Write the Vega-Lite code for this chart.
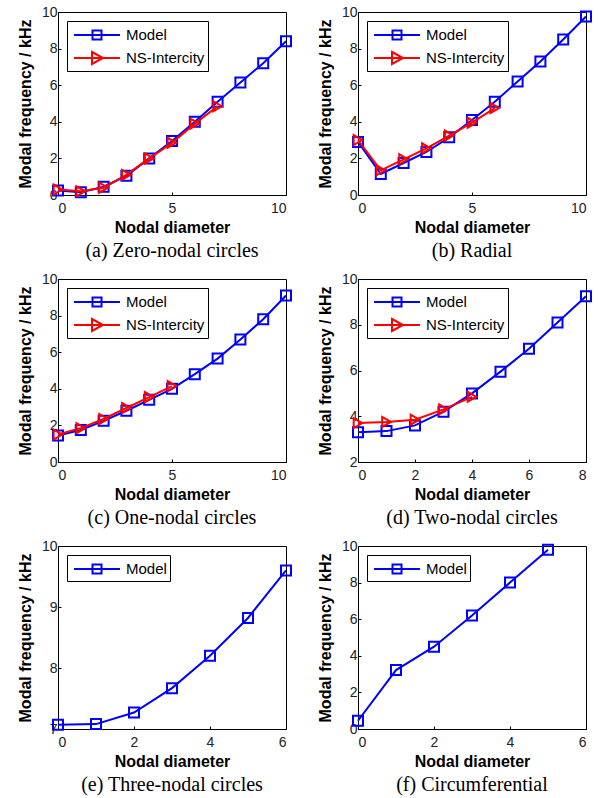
{
  "$schema": "https://vega.github.io/schema/vega-lite/v6.json",
  "padding": {"left": 16, "top": 4, "right": 5, "bottom": 0},
  "datasets": {
    "a": [
      {"series": "Model", "nd": 0, "f": 0.25}, {"series": "Model", "nd": 1, "f": 0.15}, {"series": "Model", "nd": 2, "f": 0.45}, {"series": "Model", "nd": 3, "f": 1.05}, {"series": "Model", "nd": 4, "f": 2.0}, {"series": "Model", "nd": 5, "f": 2.95}, {"series": "Model", "nd": 6, "f": 4.0}, {"series": "Model", "nd": 7, "f": 5.1}, {"series": "Model", "nd": 8, "f": 6.15}, {"series": "Model", "nd": 9, "f": 7.2}, {"series": "Model", "nd": 10, "f": 8.4},
      {"series": "NS-Intercity", "nd": 0, "f": 0.3}, {"series": "NS-Intercity", "nd": 1, "f": 0.2}, {"series": "NS-Intercity", "nd": 2, "f": 0.4}, {"series": "NS-Intercity", "nd": 3, "f": 1.1}, {"series": "NS-Intercity", "nd": 4, "f": 2.0}, {"series": "NS-Intercity", "nd": 5, "f": 2.85}, {"series": "NS-Intercity", "nd": 6, "f": 3.9}, {"series": "NS-Intercity", "nd": 7, "f": 4.85}
    ],
    "b": [
      {"series": "Model", "nd": 0, "f": 2.9}, {"series": "Model", "nd": 1, "f": 1.15}, {"series": "Model", "nd": 2, "f": 1.75}, {"series": "Model", "nd": 3, "f": 2.35}, {"series": "Model", "nd": 4, "f": 3.15}, {"series": "Model", "nd": 5, "f": 4.1}, {"series": "Model", "nd": 6, "f": 5.1}, {"series": "Model", "nd": 7, "f": 6.2}, {"series": "Model", "nd": 8, "f": 7.3}, {"series": "Model", "nd": 9, "f": 8.5}, {"series": "Model", "nd": 10, "f": 9.75},
      {"series": "NS-Intercity", "nd": 0, "f": 3.0}, {"series": "NS-Intercity", "nd": 1, "f": 1.35}, {"series": "NS-Intercity", "nd": 2, "f": 1.95}, {"series": "NS-Intercity", "nd": 3, "f": 2.55}, {"series": "NS-Intercity", "nd": 4, "f": 3.25}, {"series": "NS-Intercity", "nd": 5, "f": 3.95}, {"series": "NS-Intercity", "nd": 6, "f": 4.75}
    ],
    "c": [
      {"series": "Model", "nd": 0, "f": 1.45}, {"series": "Model", "nd": 1, "f": 1.75}, {"series": "Model", "nd": 2, "f": 2.25}, {"series": "Model", "nd": 3, "f": 2.8}, {"series": "Model", "nd": 4, "f": 3.4}, {"series": "Model", "nd": 5, "f": 4.0}, {"series": "Model", "nd": 6, "f": 4.8}, {"series": "Model", "nd": 7, "f": 5.65}, {"series": "Model", "nd": 8, "f": 6.7}, {"series": "Model", "nd": 9, "f": 7.8}, {"series": "Model", "nd": 10, "f": 9.1},
      {"series": "NS-Intercity", "nd": 0, "f": 1.5}, {"series": "NS-Intercity", "nd": 1, "f": 1.85}, {"series": "NS-Intercity", "nd": 2, "f": 2.35}, {"series": "NS-Intercity", "nd": 3, "f": 2.95}, {"series": "NS-Intercity", "nd": 4, "f": 3.55}, {"series": "NS-Intercity", "nd": 5, "f": 4.15}
    ],
    "d": [
      {"series": "Model", "nd": 0, "f": 3.3}, {"series": "Model", "nd": 1, "f": 3.35}, {"series": "Model", "nd": 2, "f": 3.6}, {"series": "Model", "nd": 3, "f": 4.2}, {"series": "Model", "nd": 4, "f": 5.0}, {"series": "Model", "nd": 5, "f": 5.95}, {"series": "Model", "nd": 6, "f": 6.95}, {"series": "Model", "nd": 7, "f": 8.1}, {"series": "Model", "nd": 8, "f": 9.25},
      {"series": "NS-Intercity", "nd": 0, "f": 3.7}, {"series": "NS-Intercity", "nd": 1, "f": 3.75}, {"series": "NS-Intercity", "nd": 2, "f": 3.85}, {"series": "NS-Intercity", "nd": 3, "f": 4.3}, {"series": "NS-Intercity", "nd": 4, "f": 4.85}
    ],
    "e": [
      {"series": "Model", "nd": 0, "f": 7.07}, {"series": "Model", "nd": 1, "f": 7.08}, {"series": "Model", "nd": 2, "f": 7.27}, {"series": "Model", "nd": 3, "f": 7.67}, {"series": "Model", "nd": 4, "f": 8.2}, {"series": "Model", "nd": 5, "f": 8.82}, {"series": "Model", "nd": 6, "f": 9.6}
    ],
    "f": [
      {"series": "Model", "nd": 0, "f": 0.45}, {"series": "Model", "nd": 1, "f": 3.22}, {"series": "Model", "nd": 2, "f": 4.5}, {"series": "Model", "nd": 3, "f": 6.2}, {"series": "Model", "nd": 4, "f": 8.0}, {"series": "Model", "nd": 5, "f": 9.8}
    ]
  },
  "columns": 2,
  "spacing": {"row": 9, "column": 20},
  "resolve": {
    "scale": {"x": "independent", "y": "independent", "color": "independent", "shape": "independent"},
    "legend": {"color": "independent", "shape": "independent"}
  },
  "concat": [
    {
      "width": 228, "height": 183,
      "data": {"name": "a"},
      "title": {"text": "(a) Zero-nodal circles", "orient": "bottom"},
      "encoding": {
        "x": {"field": "nd", "type": "quantitative", "scale": {"domain": [0, 10], "nice": false}, "axis": {"values": [0, 5, 10], "title": "Nodal diameter"}},
        "y": {"field": "f", "type": "quantitative", "scale": {"domain": [0, 10], "nice": false}, "axis": {"values": [0, 2, 4, 6, 8, 10], "title": "Modal frequency / kHz"}}
      },
      "layer": [
        {"transform": [{"filter": "datum.series === 'Model'"}], "mark": {"type": "line", "strokeWidth": 2, "stroke": "#0000ff"}},
        {"transform": [{"filter": "datum.series === 'Model'"}], "mark": {"type": "point", "shape": "square", "filled": false, "stroke": "#0000ff", "strokeWidth": 2, "size": 100, "opacity": 1}},
        {"transform": [{"filter": "datum.series === 'NS-Intercity'"}], "mark": {"type": "line", "strokeWidth": 2, "stroke": "#ff0000"}},
        {"transform": [{"filter": "datum.series === 'NS-Intercity'"}], "mark": {"type": "point", "shape": "triangle-right", "filled": false, "stroke": "#ff0000", "strokeWidth": 2, "size": 100, "opacity": 1}},
        {"transform": [{"filter": "datum.nd < 0"}],
          "mark": {"type": "point", "filled": false, "strokeWidth": 2, "opacity": 1},
          "encoding": {
            "color": {"field": "series", "type": "nominal", "scale": {"domain": ["Model", "NS-Intercity"], "range": ["#0000ff", "#ff0000"]}, "legend": {"title": null}},
            "shape": {"field": "series", "type": "nominal", "scale": {"domain": ["Model", "NS-Intercity"], "range": ["M-2.3,0H2.3M-0.45,-0.45H0.45V0.45H-0.45Z", "M-2.3,0H2.3M-0.5,-0.6L0.6,0L-0.5,0.6Z"]}, "legend": {"title": null}}
          }}
      ]
    },
    {
      "width": 228, "height": 183,
      "data": {"name": "b"},
      "title": {"text": "(b) Radial", "orient": "bottom"},
      "encoding": {
        "x": {"field": "nd", "type": "quantitative", "scale": {"domain": [0, 10], "nice": false}, "axis": {"values": [0, 5, 10], "title": "Nodal diameter"}},
        "y": {"field": "f", "type": "quantitative", "scale": {"domain": [0, 10], "nice": false}, "axis": {"values": [0, 2, 4, 6, 8, 10], "title": "Modal frequency / kHz"}}
      },
      "layer": [
        {"transform": [{"filter": "datum.series === 'Model'"}], "mark": {"type": "line", "strokeWidth": 2, "stroke": "#0000ff"}},
        {"transform": [{"filter": "datum.series === 'Model'"}], "mark": {"type": "point", "shape": "square", "filled": false, "stroke": "#0000ff", "strokeWidth": 2, "size": 100, "opacity": 1}},
        {"transform": [{"filter": "datum.series === 'NS-Intercity'"}], "mark": {"type": "line", "strokeWidth": 2, "stroke": "#ff0000"}},
        {"transform": [{"filter": "datum.series === 'NS-Intercity'"}], "mark": {"type": "point", "shape": "triangle-right", "filled": false, "stroke": "#ff0000", "strokeWidth": 2, "size": 100, "opacity": 1}},
        {"transform": [{"filter": "datum.nd < 0"}],
          "mark": {"type": "point", "filled": false, "strokeWidth": 2, "opacity": 1},
          "encoding": {
            "color": {"field": "series", "type": "nominal", "scale": {"domain": ["Model", "NS-Intercity"], "range": ["#0000ff", "#ff0000"]}, "legend": {"title": null}},
            "shape": {"field": "series", "type": "nominal", "scale": {"domain": ["Model", "NS-Intercity"], "range": ["M-2.3,0H2.3M-0.45,-0.45H0.45V0.45H-0.45Z", "M-2.3,0H2.3M-0.5,-0.6L0.6,0L-0.5,0.6Z"]}, "legend": {"title": null}}
          }}
      ]
    },
    {
      "width": 228, "height": 183,
      "data": {"name": "c"},
      "title": {"text": "(c) One-nodal circles", "orient": "bottom"},
      "encoding": {
        "x": {"field": "nd", "type": "quantitative", "scale": {"domain": [0, 10], "nice": false}, "axis": {"values": [0, 5, 10], "title": "Nodal diameter"}},
        "y": {"field": "f", "type": "quantitative", "scale": {"domain": [0, 10], "nice": false}, "axis": {"values": [0, 2, 4, 6, 8, 10], "title": "Modal frequency / kHz"}}
      },
      "layer": [
        {"transform": [{"filter": "datum.series === 'Model'"}], "mark": {"type": "line", "strokeWidth": 2, "stroke": "#0000ff"}},
        {"transform": [{"filter": "datum.series === 'Model'"}], "mark": {"type": "point", "shape": "square", "filled": false, "stroke": "#0000ff", "strokeWidth": 2, "size": 100, "opacity": 1}},
        {"transform": [{"filter": "datum.series === 'NS-Intercity'"}], "mark": {"type": "line", "strokeWidth": 2, "stroke": "#ff0000"}},
        {"transform": [{"filter": "datum.series === 'NS-Intercity'"}], "mark": {"type": "point", "shape": "triangle-right", "filled": false, "stroke": "#ff0000", "strokeWidth": 2, "size": 100, "opacity": 1}},
        {"transform": [{"filter": "datum.nd < 0"}],
          "mark": {"type": "point", "filled": false, "strokeWidth": 2, "opacity": 1},
          "encoding": {
            "color": {"field": "series", "type": "nominal", "scale": {"domain": ["Model", "NS-Intercity"], "range": ["#0000ff", "#ff0000"]}, "legend": {"title": null}},
            "shape": {"field": "series", "type": "nominal", "scale": {"domain": ["Model", "NS-Intercity"], "range": ["M-2.3,0H2.3M-0.45,-0.45H0.45V0.45H-0.45Z", "M-2.3,0H2.3M-0.5,-0.6L0.6,0L-0.5,0.6Z"]}, "legend": {"title": null}}
          }}
      ]
    },
    {
      "width": 228, "height": 183,
      "data": {"name": "d"},
      "title": {"text": "(d) Two-nodal circles", "orient": "bottom"},
      "encoding": {
        "x": {"field": "nd", "type": "quantitative", "scale": {"domain": [0, 8], "nice": false}, "axis": {"values": [0, 2, 4, 6, 8], "title": "Nodal diameter"}},
        "y": {"field": "f", "type": "quantitative", "scale": {"domain": [2, 10], "nice": false, "zero": false}, "axis": {"values": [2, 4, 6, 8, 10], "title": "Modal frequency / kHz"}}
      },
      "layer": [
        {"transform": [{"filter": "datum.series === 'Model'"}], "mark": {"type": "line", "strokeWidth": 2, "stroke": "#0000ff"}},
        {"transform": [{"filter": "datum.series === 'Model'"}], "mark": {"type": "point", "shape": "square", "filled": false, "stroke": "#0000ff", "strokeWidth": 2, "size": 100, "opacity": 1}},
        {"transform": [{"filter": "datum.series === 'NS-Intercity'"}], "mark": {"type": "line", "strokeWidth": 2, "stroke": "#ff0000"}},
        {"transform": [{"filter": "datum.series === 'NS-Intercity'"}], "mark": {"type": "point", "shape": "triangle-right", "filled": false, "stroke": "#ff0000", "strokeWidth": 2, "size": 100, "opacity": 1}},
        {"transform": [{"filter": "datum.nd < 0"}],
          "mark": {"type": "point", "filled": false, "strokeWidth": 2, "opacity": 1},
          "encoding": {
            "color": {"field": "series", "type": "nominal", "scale": {"domain": ["Model", "NS-Intercity"], "range": ["#0000ff", "#ff0000"]}, "legend": {"title": null}},
            "shape": {"field": "series", "type": "nominal", "scale": {"domain": ["Model", "NS-Intercity"], "range": ["M-2.3,0H2.3M-0.45,-0.45H0.45V0.45H-0.45Z", "M-2.3,0H2.3M-0.5,-0.6L0.6,0L-0.5,0.6Z"]}, "legend": {"title": null}}
          }}
      ]
    },
    {
      "width": 228, "height": 183,
      "data": {"name": "e"},
      "title": {"text": "(e) Three-nodal circles", "orient": "bottom"},
      "encoding": {
        "x": {"field": "nd", "type": "quantitative", "scale": {"domain": [0, 6], "nice": false}, "axis": {"values": [0, 2, 4, 6], "title": "Nodal diameter"}},
        "y": {"field": "f", "type": "quantitative", "scale": {"domain": [7, 10], "nice": false, "zero": false}, "axis": {"values": [7, 8, 9, 10], "title": "Modal frequency / kHz"}}
      },
      "layer": [
        {"mark": {"type": "line", "strokeWidth": 2, "stroke": "#0000ff"}},
        {"mark": {"type": "point", "shape": "square", "filled": false, "stroke": "#0000ff", "strokeWidth": 2, "size": 100, "opacity": 1}},
        {"transform": [{"filter": "datum.nd < 0"}],
          "mark": {"type": "point", "filled": false, "strokeWidth": 2, "opacity": 1},
          "encoding": {
            "color": {"field": "series", "type": "nominal", "scale": {"domain": ["Model"], "range": ["#0000ff"]}, "legend": {"title": null}},
            "shape": {"field": "series", "type": "nominal", "scale": {"domain": ["Model"], "range": ["M-2.3,0H2.3M-0.45,-0.45H0.45V0.45H-0.45Z"]}, "legend": {"title": null}}
          }}
      ]
    },
    {
      "width": 228, "height": 183,
      "data": {"name": "f"},
      "title": {"text": "(f) Circumferential", "orient": "bottom"},
      "encoding": {
        "x": {"field": "nd", "type": "quantitative", "scale": {"domain": [0, 6], "nice": false}, "axis": {"values": [0, 2, 4, 6], "title": "Nodal diameter"}},
        "y": {"field": "f", "type": "quantitative", "scale": {"domain": [0, 10], "nice": false}, "axis": {"values": [0, 2, 4, 6, 8, 10], "title": "Modal frequency / kHz"}}
      },
      "layer": [
        {"mark": {"type": "line", "strokeWidth": 2, "stroke": "#0000ff"}},
        {"mark": {"type": "point", "shape": "square", "filled": false, "stroke": "#0000ff", "strokeWidth": 2, "size": 100, "opacity": 1}},
        {"transform": [{"filter": "datum.nd < 0"}],
          "mark": {"type": "point", "filled": false, "strokeWidth": 2, "opacity": 1},
          "encoding": {
            "color": {"field": "series", "type": "nominal", "scale": {"domain": ["Model"], "range": ["#0000ff"]}, "legend": {"title": null}},
            "shape": {"field": "series", "type": "nominal", "scale": {"domain": ["Model"], "range": ["M-2.3,0H2.3M-0.45,-0.45H0.45V0.45H-0.45Z"]}, "legend": {"title": null}}
          }}
      ]
    }
  ],
  "config": {
    "font": "Liberation Sans",
    "view": {"stroke": "black", "strokeWidth": 1},
    "axis": {"grid": false, "domainColor": "black", "tickColor": "black", "tickSize": -3, "labelFont": "Liberation Sans", "labelFontSize": 14, "labelColor": "#222222", "titleFont": "Liberation Sans", "titleFontSize": 16, "titleFontWeight": "bold", "titleColor": "black"},
    "axisX": {"titlePadding": 4, "labelPadding": 9},
    "axisY": {"titlePadding": 8, "labelPadding": 4},
    "legend": {"orient": "top-left", "offset": 9, "strokeColor": "black", "fillColor": "white", "padding": 3, "labelFont": "Liberation Sans", "labelFontSize": 15, "labelColor": "black", "symbolSize": 400, "symbolStrokeWidth": 2, "rowPadding": 3, "symbolOffset": 16, "labelOffset": 18, "cornerRadius": 0},
    "title": {"font": "Liberation Serif", "fontSize": 20, "fontWeight": "normal", "color": "black", "anchor": "middle", "offset": 6}
  }
}
